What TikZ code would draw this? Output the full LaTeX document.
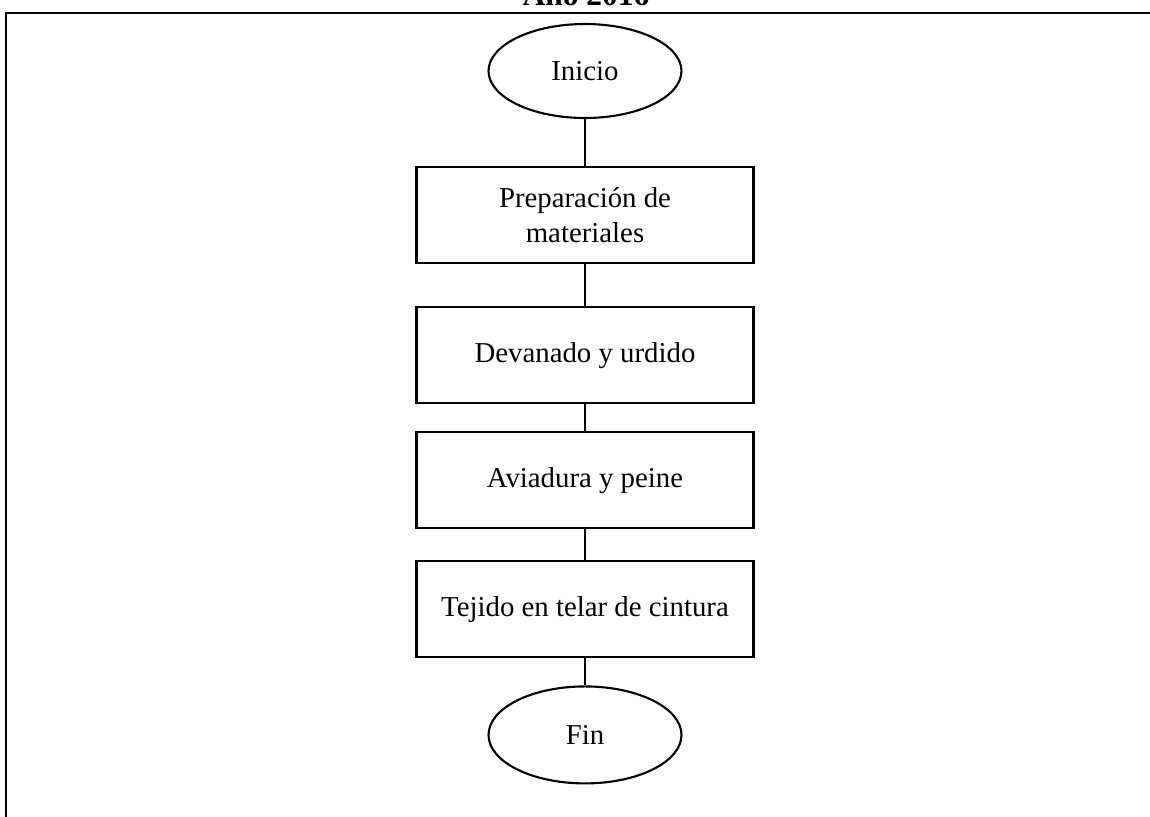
\documentclass[tikz,border=0pt]{standalone}
\usepackage{fontspec}
\setmainfont{Liberation Serif}
\usepackage{tikz}
\usetikzlibrary{arrows.meta, positioning, shapes.geometric}

\begin{document}
\begin{tikzpicture}[x=0.02cm, y=-0.02cm,
    proceso/.style={rectangle, draw, line width=1.2pt, minimum width=6.74cm, minimum height=1.92cm, align=center, inner sep=2pt},
    terminal/.style={ellipse, draw, line width=1.2pt, minimum width=3.86cm, minimum height=1.88cm, inner sep=0pt},
    enlace/.style={line width=0.8pt}]
    \useasboundingbox (0,0) rectangle (1150,816);
    \clip (0,0) rectangle (1150,816);
    % marco y titulo (cortados por el borde)
    \draw[line width=1pt] (6,13) rectangle (1170,840);
    \node[font=\bfseries\fontsize{17.9}{21}\selectfont, anchor=base] (titulo) at (586,5) {Año 2016};
    % nodos del diagrama
    \node[terminal, font=\fontsize{16.4}{19.9}\selectfont] (inicio) at (585,71) {Inicio};
    \node[proceso, font=\fontsize{16.4}{19.9}\selectfont, below=0.94cm of inicio] (P1) {Preparación de\\materiales};
    \node[proceso, font=\fontsize{16.4}{19.9}\selectfont, below=0.84cm of P1] (P2) {Devanado y urdido};
    \node[proceso, font=\fontsize{16.4}{19.9}\selectfont, below=0.54cm of P2] (P3) {Aviadura y peine};
    \node[proceso, font=\fontsize{16.4}{19.9}\selectfont, below=0.62cm of P3] (P4) {Tejido en telar de cintura};
    \node[terminal, font=\fontsize{16.4}{19.9}\selectfont, minimum height=1.94cm, below=0.54cm of P4] (fin) {Fin};
    % enlaces
    \draw[enlace] (inicio) -- (P1);
    \draw[enlace] (P1) -- (P2);
    \draw[enlace] (P2) -- (P3);
    \draw[enlace] (P3) -- (P4);
    \draw[enlace] (P4) -- (fin);
\end{tikzpicture}
\end{document}
